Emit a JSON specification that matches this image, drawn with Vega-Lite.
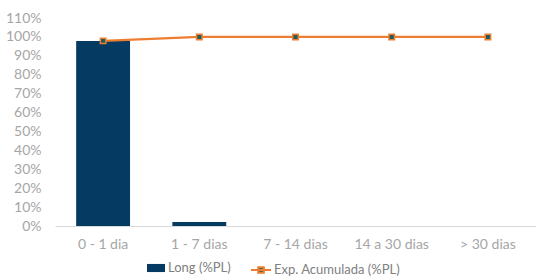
{
  "$schema": "https://vega.github.io/schema/vega-lite/v6.json",
  "width": 481,
  "height": 208,
  "autosize": {"type": "none"},
  "padding": {"left": 55, "top": 18, "right": 0, "bottom": 50},
  "background": "white",
  "config": {
    "view": {"stroke": null},
    "font": "Lato",
    "axis": {"labelFont": "Lato", "labelColor": "#a6a6a6", "labelFontSize": 14, "grid": false, "ticks": false, "title": null},
    "legend": {"labelFont": "Lato", "labelColor": "#808080", "labelFontSize": 13, "padding": 0}
  },
  "data": {
    "values": [
      {"cat": "0 - 1 dia", "long": 0.979, "acum": 0.979},
      {"cat": "1 - 7 dias", "long": 0.021, "acum": 1.0},
      {"cat": "7 - 14 dias", "long": 0.0, "acum": 1.0},
      {"cat": "14 a 30 dias", "long": 0.0, "acum": 1.0},
      {"cat": "> 30 dias", "long": 0.0, "acum": 1.0}
    ]
  },
  "encoding": {
    "x": {
      "field": "cat", "type": "nominal", "sort": null,
      "scale": {"paddingInner": 0.44, "paddingOuter": 0.22},
      "axis": {"labelAngle": 0, "domainColor": "#d9d9d9", "labelPadding": 11, "labelFontSize": 14, "labelOverlap": false}
    }
  },
  "layer": [
    {
      "mark": {"type": "bar"},
      "encoding": {
        "y": {
          "field": "long", "type": "quantitative",
          "scale": {"domain": [0, 1.1]},
          "axis": {"format": ".0%", "values": [0, 0.1, 0.2, 0.3, 0.4, 0.5, 0.6, 0.7, 0.8, 0.9, 1.0, 1.1], "domain": false, "labelPadding": 14, "labelOverlap": false, "labelFlush": false, "labelBound": false, "labelFontSize": 14}
        },
        "fill": {
          "datum": "Long (%PL)",
          "scale": {"range": ["#053a62"]},
          "legend": {"orient": "none", "legendX": 92, "legendY": 241, "direction": "horizontal", "title": null, "symbolType": "M-1,-0.45H1V0.45H-1Z", "symbolSize": 324, "symbolStrokeWidth": 0, "labelOffset": 3, "labelFontSize": 13}
        }
      }
    },
    {
      "mark": {"type": "line", "color": "#ed7d31", "strokeWidth": 2.25, "point": {"shape": "square", "size": 30, "filled": true, "fill": "#1e5f5c", "stroke": "#f4a36b", "strokeWidth": 1.5}},
      "encoding": {
        "y": {
          "field": "acum", "type": "quantitative",
          "scale": {"domain": [0, 1.1]},
          "axis": {"format": ".0%", "values": [0, 0.1, 0.2, 0.3, 0.4, 0.5, 0.6, 0.7, 0.8, 0.9, 1.0, 1.1], "domain": false, "labelPadding": 14, "labelOverlap": false, "labelFlush": false, "labelBound": false, "labelFontSize": 14}
        },
        "stroke": {
          "datum": "Exp. Acumulada (%PL)",
          "scale": {"range": ["#ed7d31"]},
          "legend": {"orient": "none", "legendX": 195, "legendY": 241, "direction": "horizontal", "title": null, "symbolType": "M-1,0H1M-0.28,-0.28H0.28V0.28H-0.28Z", "symbolSize": 400, "symbolFillColor": "#1e5f5c", "symbolStrokeWidth": 2, "labelOffset": 2, "labelFontSize": 13}
        }
      }
    }
  ]
}
